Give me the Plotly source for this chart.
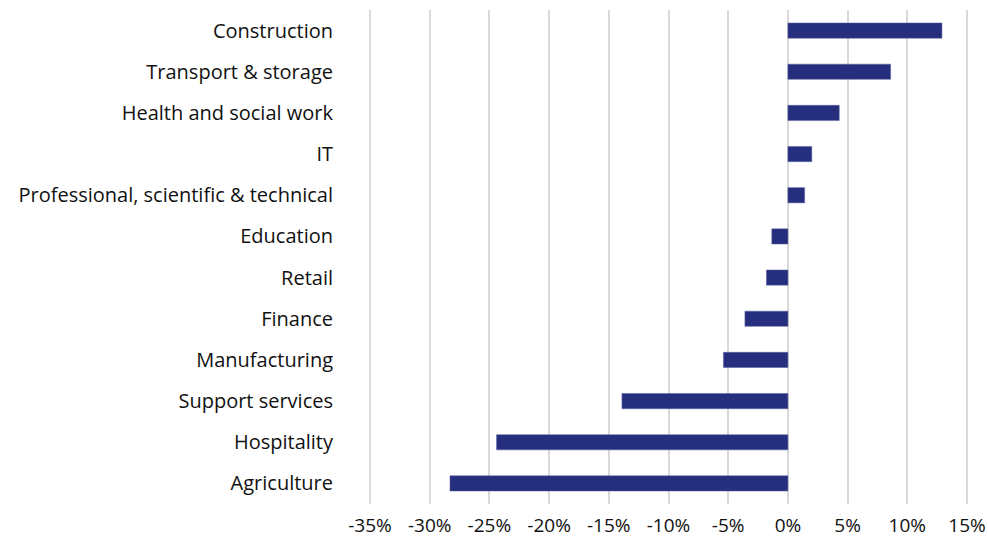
import plotly.graph_objects as go

categories = ["Construction", "Transport & storage", "Health and social work", "IT",
              "Professional, scientific & technical", "Education", "Retail", "Finance",
              "Manufacturing", "Support services", "Hospitality", "Agriculture"]
values = [12.9, 8.6, 4.3, 2.0, 1.4, -1.35, -1.8, -3.6, -5.4, -13.9, -24.4, -28.3]
tick_vals = [-35, -30, -25, -20, -15, -10, -5, 0, 5, 10, 15]
tick_text = ["-35%", "-30%", "-25%", "-20%", "-15%", "-10%", "-5%", "0%", "5%", "10%", "15%"]

fig = go.Figure(go.Bar(
    x=values, y=categories, orientation="h",
    marker=dict(color="#262F7E", line=dict(color="#5a60a0", width=0.5)),
))

fig.update_layout(
    width=988, height=540,
    margin=dict(l=364, r=15, t=10, b=36, autoexpand=False),
    paper_bgcolor="white", plot_bgcolor="white",
    font=dict(family="Open Sans, sans-serif", size=20, color="#111111"),
    bargap=0.63,
    showlegend=False,
)
fig.update_xaxes(
    range=[-35.5, 15.5], tickvals=tick_vals, ticktext=tick_text,
    tickfont=dict(size=19),
    showgrid=True, gridcolor="#d9d9d9", gridwidth=2,
    zeroline=True, zerolinecolor="#d9d9d9", zerolinewidth=2,
    showline=False, ticks="", ticklabelstandoff=8, automargin=False,
    ticklabeloverflow="allow",
)
fig.update_yaxes(
    categoryorder="array", categoryarray=categories[::-1],
    showgrid=False, showline=False, ticks="", ticklabelstandoff=30, automargin=False,
)

fig.write_html(
    "out.html",
    config={"displayModeBar": False},
    post_script="document.body.style.margin='0';document.body.style.overflow='hidden';",
)
